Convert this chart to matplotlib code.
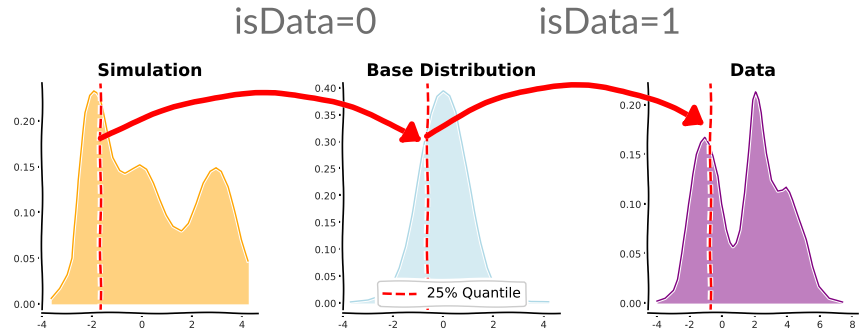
import matplotlib
matplotlib.use('Agg')
import matplotlib.pyplot as plt
import matplotlib.patheffects as pe
from matplotlib.patches import ConnectionPatch

# densities
sim_x = [-3.63, -3.3, -3.0, -2.8, -2.65, -2.56, -2.41, -2.28, -2.1, -1.93, -1.8, -1.68, -1.55, -1.41, -1.16,
         -0.88, -0.68, -0.36, -0.09, 0.18, 0.45, 0.71, 0.98, 1.25, 1.58, 1.85, 2.18, 2.45, 2.72, 2.96, 3.18,
         3.45, 3.72, 3.98, 4.25]
sim_y = [0.006, 0.017, 0.032, 0.05, 0.10, 0.135, 0.172, 0.209, 0.228, 0.233, 0.231, 0.226, 0.21, 0.19, 0.16,
         0.146, 0.143, 0.148, 0.152, 0.147, 0.132, 0.114, 0.097, 0.085, 0.080, 0.088, 0.110, 0.132, 0.145,
         0.149, 0.145, 0.128, 0.099, 0.070, 0.047]

base_x = [-3.7, -3.0, -2.5, -2.0, -1.75, -1.5, -1.25, -1.0, -0.75, -0.5, -0.25, 0.0, 0.25, 0.5, 0.75, 1.0,
          1.25, 1.5, 1.75, 2.0, 2.5, 3.0, 3.5, 4.2]
base_y = [0.002, 0.006, 0.014, 0.038, 0.065, 0.105, 0.165, 0.232, 0.30, 0.352, 0.384, 0.394, 0.385, 0.355,
          0.298, 0.232, 0.17, 0.112, 0.065, 0.036, 0.013, 0.006, 0.003, 0.002]

data_x = [-4.0, -3.5, -3.0, -2.75, -2.47, -2.25, -2.07, -1.8, -1.57, -1.3, -1.06, -0.8, -0.55, -0.24, -0.04,
          0.26, 0.5, 0.67, 0.85, 1.08, 1.39, 1.69, 1.9, 2.06, 2.25, 2.41, 2.71, 3.02, 3.42, 3.7, 3.93, 4.15,
          4.34, 4.74, 5.15, 5.56, 5.96, 6.58, 7.39]
data_y = [0.002, 0.005, 0.013, 0.024, 0.05, 0.075, 0.10, 0.13, 0.15, 0.162, 0.167, 0.16, 0.148, 0.128, 0.10,
          0.074, 0.061, 0.057, 0.061, 0.074, 0.111, 0.168, 0.205, 0.213, 0.205, 0.192, 0.151, 0.124, 0.113,
          0.114, 0.117, 0.112, 0.104, 0.084, 0.064, 0.037, 0.017, 0.005, 0.001]

# 25% quantiles
sim_q = -1.66
base_q = -0.66
data_q = -0.72

titles = ['Simulation', 'Base Distribution', 'Data']
groups = ['isData=0', 'isData=1']

plt.xkcd(scale=0.6, length=100, randomness=2)
plt.rcParams['font.family'] = ['DejaVu Sans']
plt.rcParams['font.size'] = 10

fig = plt.figure(figsize=(8.6, 3.31), dpi=100)
ax1 = fig.add_axes([0.0488, 0.0544, 0.2512, 0.695])
ax2 = fig.add_axes([0.3988, 0.0544, 0.2523, 0.695])
ax3 = fig.add_axes([0.7535, 0.0544, 0.2440, 0.695])

panels = [
    (ax1, sim_x, sim_y, sim_q, 'orange', (-4, 4.64), (-0.01, 0.2415), [-4, -2, 0, 2, 4], 0.20),
    (ax2, base_x, base_y, base_q, 'lightblue', (-4, 4.65), (-0.0186, 0.409), [-4, -2, 0, 2, 4], 0.40),
    (ax3, data_x, data_y, data_q, 'purple', (-4.55, 8.33), (-0.01, 0.222), [-4, -2, 0, 2, 4, 6, 8], 0.20),
]
for (ax, x, y, q, c, xl, yl, xt, ymax), title in zip(panels, titles):
    ax.fill_between(x, y, color=c, alpha=0.5, lw=0)
    edge, = ax.plot(x, y, color=c, lw=1)
    edge.set_sketch_params(scale=0.25, length=100, randomness=2)
    edge.set_path_effects([pe.withStroke(linewidth=2.5, foreground='w')])
    ax.axvline(q, color='red', ls='--', lw=1.8, label='25% Quantile')
    ax.set_xlim(*xl)
    ax.set_ylim(*yl)
    ax.set_xticks(xt)
    ax.set_yticks([i * 0.05 for i in range(int(round(ymax / 0.05)) + 1)])
    ax.yaxis.set_major_formatter(plt.FormatStrFormatter('%.2f'))
    ax.tick_params(labelsize=7, length=3, width=1.5, pad=2, labelcolor='#222222')
    for s in ['top', 'right']:
        ax.spines[s].set_visible(False)
    for s in ['left', 'bottom']:
        ax.spines[s].set_linewidth(1.2)
    ax.set_title(title, fontsize=12.5, fontweight='bold', pad=5)

ax2.legend(loc='lower center', fontsize=10, handlelength=2.4, framealpha=1)

# hand drawn arrows: simulation -> base -> data
arr1 = ConnectionPatch((sim_q, 0.181), (-0.85, 0.30), coordsA=ax1.transData, coordsB=ax2.transData,
                       arrowstyle='-|>,head_length=0.55,head_width=0.4', mutation_scale=17, color='red', lw=4,
                       connectionstyle='angle3,angleA=28,angleB=-32')
arr2 = ConnectionPatch((base_q, 0.31), (-1.05, 0.18), coordsA=ax2.transData, coordsB=ax3.transData,
                       arrowstyle='-|>,head_length=0.55,head_width=0.4', mutation_scale=17, color='red', lw=4,
                       connectionstyle='angle3,angleA=35,angleB=-30')
fig.add_artist(arr1)
fig.add_artist(arr2)

fig.text(0.355, 0.93, groups[0], ha='center', va='center', fontsize=26, color='#6e6e6e', family='Lato')
fig.text(0.709, 0.93, groups[1], ha='center', va='center', fontsize=26, color='#6e6e6e', family='Lato')

fig.savefig('out.png', dpi=100)
